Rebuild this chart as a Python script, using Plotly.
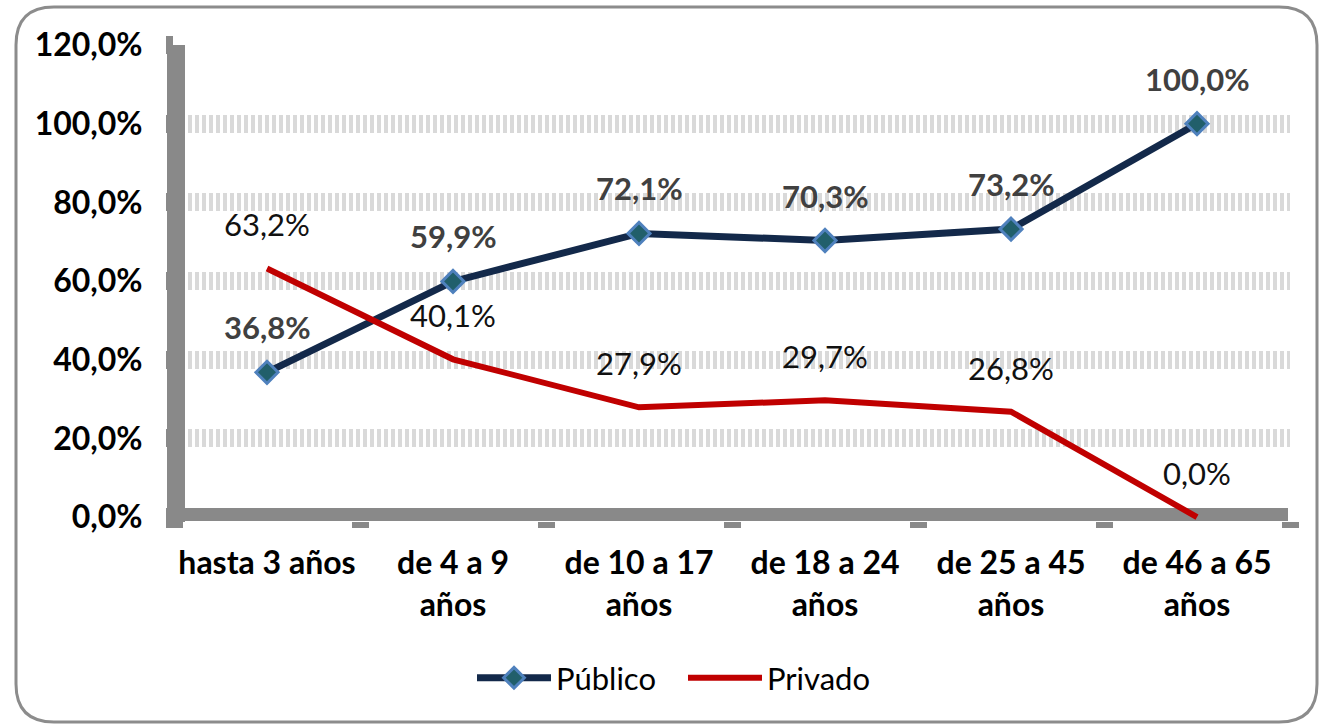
import plotly.graph_objects as go

categorias = ["hasta 3 años", "de 4 a 9<br>años", "de 10 a 17<br>años",
              "de 18 a 24<br>años", "de 25 a 45<br>años", "de 46 a 65<br>años"]
publico = [36.8, 59.9, 72.1, 70.3, 73.2, 100.0]
privado = [63.2, 40.1, 27.9, 29.7, 26.8, 0.0]
y_ticks = [0, 20, 40, 60, 80, 100, 120]
y_tick_labels = ["0,0%", "20,0%", "40,0%", "60,0%", "80,0%", "100,0%", "120,0%"]

FONT = "Lato"
AXIS_GRAY = "#898989"
Y_RANGE = [-1, 120]

def fmt(v):
    return f"{v:.1f}".replace(".", ",") + "%"

fig = go.Figure()
fig.add_trace(go.Scatter(
    x=categorias, y=publico, name="Público", mode="lines+markers",
    line=dict(color="#13294a", width=7),
    marker=dict(symbol="diamond", size=17, color="#215f6b",
                line=dict(color="#4f81bd", width=3)),
))
fig.add_trace(go.Scatter(
    x=categorias, y=privado, name="Privado", mode="lines",
    line=dict(color="#c00000", width=6),
))

annotations = []
for c, v in zip(categorias, publico):
    annotations.append(dict(x=c, y=v, text=fmt(v), showarrow=False, yshift=45,
                            font=dict(family=FONT, size=31, color="#404040", weight="bold")))
for c, v in zip(categorias, privado):
    annotations.append(dict(x=c, y=v, text=fmt(v), showarrow=False, yshift=44,
                            font=dict(family=FONT, size=31, color="#111111")))

L, R, T, B = 174, 38, 45, 205
W, H = 1328, 726
pw, ph = W - L - R, H - T - B

def px(x):
    return (x - L) / pw

def py(y):
    return (H - B - y) / ph

# rounded outer border
x0, x1, y0, y1, r = 16, 1317, 7, 722, 38
path = (f"M {px(x0+r)},{py(y0)} L {px(x1-r)},{py(y0)} Q {px(x1)},{py(y0)} {px(x1)},{py(y0+r)} "
        f"L {px(x1)},{py(y1-r)} Q {px(x1)},{py(y1)} {px(x1-r)},{py(y1)} "
        f"L {px(x0+r)},{py(y1)} Q {px(x0)},{py(y1)} {px(x0)},{py(y1-r)} "
        f"L {px(x0)},{py(y0+r)} Q {px(x0)},{py(y0)} {px(x0+r)},{py(y0)} Z")

shapes = [
    dict(type="path", xref="paper", yref="paper", path=path,
         line=dict(color="#8c8c8c", width=3), layer="below"),
    # x axis bar (below traces; no gridline at 0)
    dict(type="rect", xref="paper", yref="y", ysizemode="pixel", yanchor=0,
         x0=px(167), x1=px(1288), y0=-5, y1=9, fillcolor=AXIS_GRAY, line=dict(width=0), layer="below"),
    # y axis bar (covers the gridline starts)
    dict(type="rect", xref="paper", yref="paper", xsizemode="pixel", xanchor=0,
         x0=-7, x1=11, y0=py(522), y1=1, fillcolor=AXIS_GRAY, line=dict(width=0), layer="above"),
]

# invisible helper trace so the label axis (y2) is drawn
fig.add_trace(go.Scatter(x=[categorias[0]], y=[None], yaxis="y2", showlegend=False,
                         hoverinfo="skip", mode="lines"))

fig.update_layout(
    width=W, height=H,
    margin=dict(l=L, r=R, t=T, b=B, autoexpand=False),
    paper_bgcolor="white", plot_bgcolor="white",
    font=dict(family=FONT, color="black"),
    shapes=shapes,
    annotations=annotations,
    showlegend=True,
    legend=dict(orientation="h", xref="container", yref="container",
                x=(472) / W, y=0.066, xanchor="left", yanchor="middle",
                font=dict(family=FONT, size=31, color="black"),
                itemwidth=74, itemsizing="trace",
                entrywidth=122, entrywidthmode="pixels"),
    xaxis=dict(
        type="category", showgrid=False, showline=False, zeroline=False,
        ticks="outside", tickson="boundaries", ticklen=6, tickwidth=17, tickcolor=AXIS_GRAY,
        ticklabelstandoff=20, tickangle=0, automargin=False,
        tickfont=dict(family=FONT, size=32, color="black", weight="bold"),
        range=[-0.5, 5.5],
    ),
    yaxis=dict(
        range=Y_RANGE, tickvals=y_ticks[1:], showticklabels=False,
        showgrid=True, gridcolor="#d9d9d9", gridwidth=18, griddash="4px,3px",
        zeroline=False, showline=False, automargin=False, ticks="",
    ),
    yaxis2=dict(
        overlaying="y", side="left", range=Y_RANGE,
        tickvals=y_ticks, ticktext=y_tick_labels,
        showgrid=False, zeroline=False, showline=False, automargin=False,
        ticks="outside", ticklen=7, tickwidth=18, tickcolor=AXIS_GRAY,
        ticklabelstandoff=17,
        tickfont=dict(family=FONT, size=32, color="black", weight="bold"),
    ),
)

fig.write_html("out.html", config={"displayModeBar": False},
               post_script="document.body.style.margin='0';document.body.style.overflow='hidden';")
